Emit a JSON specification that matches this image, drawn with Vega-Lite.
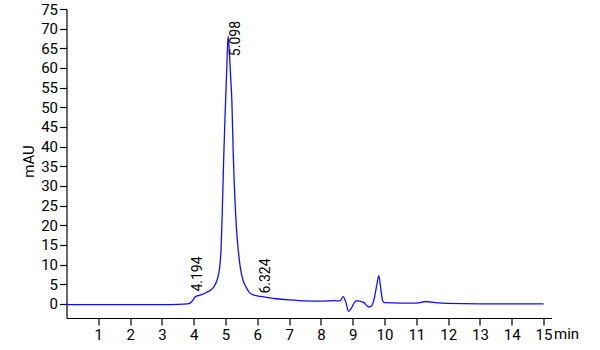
{
  "$schema": "https://vega.github.io/schema/vega-lite/v6.json",
  "autosize": "none",
  "width": 485,
  "height": 309,
  "padding": {"left": 66.5, "top": 9, "right": 48.5, "bottom": 32},
  "background": "white",
  "config": {
    "view": {"stroke": null},
    "font": "Roboto",
    "axis": {"grid": false, "domainColor": "black", "tickColor": "black", "labelColor": "black", "titleColor": "black", "labelFont": "Roboto", "titleFont": "Roboto", "labelFontSize": 15, "titleFontSize": 15, "titleFontWeight": "normal", "tickSize": 7, "domainWidth": 1.2, "tickWidth": 1.2}
  },
  "datasets": {
    "trace": [
      {"t": 0, "v": -0.2}, {"t": 1, "v": -0.2}, {"t": 2, "v": -0.2}, {"t": 3, "v": -0.2},
      {"t": 3.5, "v": -0.15}, {"t": 3.8, "v": 0.0}, {"t": 3.9, "v": 0.25}, {"t": 4.0, "v": 1.2},
      {"t": 4.05, "v": 1.8}, {"t": 4.1, "v": 2.0}, {"t": 4.2, "v": 2.2}, {"t": 4.3, "v": 2.5},
      {"t": 4.4, "v": 2.9}, {"t": 4.5, "v": 3.3}, {"t": 4.6, "v": 4.0}, {"t": 4.67, "v": 4.8},
      {"t": 4.75, "v": 6.5}, {"t": 4.81, "v": 9}, {"t": 4.86, "v": 14}, {"t": 4.9, "v": 24},
      {"t": 4.95, "v": 39}, {"t": 5.0, "v": 51}, {"t": 5.04, "v": 60}, {"t": 5.08, "v": 68.1},
      {"t": 5.12, "v": 64}, {"t": 5.16, "v": 58}, {"t": 5.2, "v": 51.6}, {"t": 5.24, "v": 39},
      {"t": 5.3, "v": 26}, {"t": 5.35, "v": 18.5}, {"t": 5.4, "v": 13.7}, {"t": 5.47, "v": 9},
      {"t": 5.55, "v": 6.0}, {"t": 5.65, "v": 4.2}, {"t": 5.76, "v": 2.8}, {"t": 5.9, "v": 2.2},
      {"t": 6.1, "v": 1.9}, {"t": 6.3, "v": 1.65}, {"t": 6.6, "v": 1.3}, {"t": 7.0, "v": 1.0},
      {"t": 7.5, "v": 0.75}, {"t": 8.0, "v": 0.7}, {"t": 8.4, "v": 0.8}, {"t": 8.6, "v": 0.75},
      {"t": 8.7, "v": 1.85}, {"t": 8.78, "v": 0.5}, {"t": 8.87, "v": -1.9}, {"t": 8.95, "v": -1.2},
      {"t": 9.05, "v": 0.3}, {"t": 9.13, "v": 0.8}, {"t": 9.25, "v": 0.6}, {"t": 9.35, "v": 0.3},
      {"t": 9.5, "v": -0.8}, {"t": 9.6, "v": -0.5}, {"t": 9.68, "v": 1.5}, {"t": 9.75, "v": 4.5},
      {"t": 9.82, "v": 7.2}, {"t": 9.88, "v": 4.0}, {"t": 9.94, "v": 0.8}, {"t": 10.0, "v": 0.3},
      {"t": 10.5, "v": 0.2}, {"t": 11.0, "v": 0.2}, {"t": 11.3, "v": 0.6}, {"t": 11.6, "v": 0.3},
      {"t": 12, "v": 0.1}, {"t": 13, "v": 0.0}, {"t": 14, "v": 0.0}, {"t": 15, "v": 0.0}
    ],
    "peaks": [
      {"rt": 4.194, "h": 2.1, "label": "4.194", "main": false},
      {"rt": 5.098, "h": 68.1, "label": "5.098", "main": true},
      {"rt": 6.324, "h": 1.6, "label": "6.324", "main": false}
    ]
  },
  "layer": [
    {
      "data": {"name": "trace"},
      "mark": {"type": "line", "color": "#1010ff", "strokeWidth": 1.3, "interpolate": "monotone"},
      "encoding": {
        "x": {"field": "t", "type": "quantitative", "scale": {"domain": [0, 15.25], "nice": false},
          "axis": {"values": [1,2,3,4,5,6,7,8,9,10,11,12,13,14,15], "tickCount": 16, "labelOverlap": false, "labelFlush": false, "labelBound": false, "labelSeparation": 0, "title": "min", "titleX": 487, "titleY": 20, "titleAlign": "left", "titleBaseline": "alphabetic", "labelPadding": 2}},
        "y": {"field": "v", "type": "quantitative", "scale": {"domain": [-3.6, 75], "nice": false, "zero": false},
          "axis": {"values": [0,5,10,15,20,25,30,35,40,45,50,55,60,65,70,75], "tickCount": 16, "labelOverlap": false, "labelFlush": false, "labelBound": false, "labelSeparation": 0, "title": "mAU", "titleX": -38, "titleY": 152, "titleAlign": "center", "titleBaseline": "middle", "titleAngle": 270, "labelPadding": 2}}
      }
    },
    {
      "data": {"name": "peaks"},
      "transform": [{"filter": "!datum.main"}],
      "mark": {"type": "text", "angle": 270, "align": "left", "baseline": "middle", "dx": 4, "dy": -2, "fontSize": 14, "font": "Roboto", "color": "black"},
      "encoding": {
        "x": {"field": "rt", "type": "quantitative"},
        "y": {"field": "h", "type": "quantitative"},
        "text": {"field": "label"}
      }
    },
    {
      "data": {"name": "peaks"},
      "transform": [{"filter": "datum.main"}],
      "mark": {"type": "text", "angle": 270, "align": "left", "baseline": "middle", "dx": -20, "dy": 7, "fontSize": 14, "font": "Roboto", "color": "black"},
      "encoding": {
        "x": {"field": "rt", "type": "quantitative"},
        "y": {"field": "h", "type": "quantitative"},
        "text": {"field": "label"}
      }
    }
  ]
}
